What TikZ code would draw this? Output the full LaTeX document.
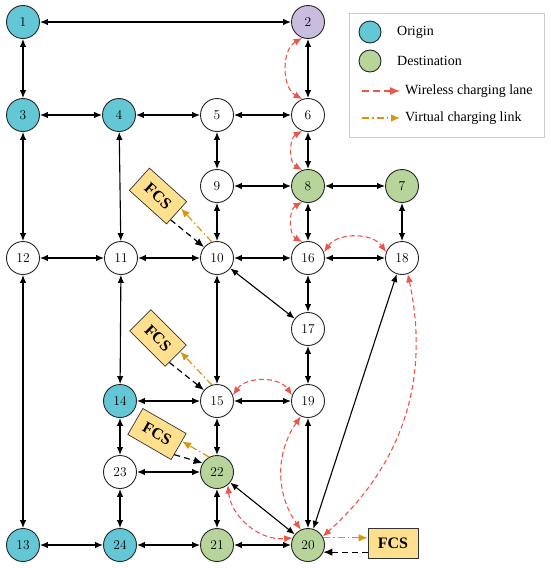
\documentclass[tikz,border=0pt]{standalone}
\usepackage{fontspec}
\newfontfamily\tnr{Liberation Serif}
\usetikzlibrary{arrows.meta,calc}
\definecolor{orgc}{RGB}{99,199,214}
\definecolor{dstc}{RGB}{183,213,154}
\definecolor{purp}{RGB}{202,188,222}
\definecolor{fcsc}{RGB}{255,224,142}
\definecolor{wlc}{RGB}{234,86,74}
\definecolor{vcc}{RGB}{214,150,14}
\begin{document}
\begin{tikzpicture}[x=1pt,y=-1pt,
  nd/.style={circle,draw=black!85,line width=0.9pt,minimum size=33pt,inner sep=0pt,fill=white,font=\fontsize{13.5}{15}\selectfont},
  org/.style={nd,fill=orgc},
  dst/.style={nd,fill=dstc},
  lk/.style={{Latex[length=8pt,width=6.5pt]}-{Latex[length=8pt,width=6.5pt]},line width=1.1pt},
  wl/.style={draw=wlc,dash pattern=on 5pt off 3pt,line width=1.1pt,{Latex[length=8.5pt,width=7pt]}-{Latex[length=8.5pt,width=7pt]}},
  wlone/.style={draw=wlc,dash pattern=on 7pt off 4pt,line width=1.2pt,-{Latex[length=10pt,width=8pt]}},
  vc/.style={draw=vcc,dash pattern=on 7pt off 3pt on 1.5pt off 3pt,line width=1.2pt,-{Latex[length=9pt,width=7.5pt]}},
  bk/.style={draw=black,dash pattern=on 6pt off 4pt,line width=1.2pt,-{Latex[length=9pt,width=7.5pt]}},
  fcs/.style={draw=black!80,line width=0.7pt,fill=fcsc,minimum width=50pt,minimum height=30pt,inner sep=0pt,font=\tnr\bfseries\fontsize{16}{18}\selectfont},
  lgt/.style={anchor=west,inner sep=0pt,font=\tnr\fontsize{14}{16}\selectfont}
]
\useasboundingbox (0,0) rectangle (550,568);

% nodes
\node[org] (n1) at (23,22) {1};
\node[nd,fill=purp] (n2) at (308,22) {2};
\node[org] (n3) at (23,115) {3};
\node[org] (n4) at (119,115) {4};
\node[nd] (n5) at (217,115) {5};
\node[nd] (n6) at (308,115) {6};
\node[nd] (n9) at (217,186) {9};
\node[dst] (n8) at (308,186) {8};
\node[dst] (n7) at (402,186) {7};
\node[nd] (n12) at (23,258) {12};
\node[nd] (n11) at (121,258) {11};
\node[nd] (n10) at (217,258) {10};
\node[nd] (n16) at (308,258) {16};
\node[nd] (n18) at (402,258) {18};
\node[nd] (n17) at (308,329) {17};
\node[org] (n14) at (120,401) {14};
\node[nd] (n15) at (217,401) {15};
\node[nd] (n19) at (308,401) {19};
\node[nd] (n23) at (120,472) {23};
\node[dst] (n22) at (217,472) {22};
\node[org] (n13) at (23,545) {13};
\node[org] (n24) at (120,545) {24};
\node[dst] (n21) at (217,545) {21};
\node[dst] (n20) at (308,545) {20};

% road links
\foreach \a/\b in {n1/n2,n1/n3,n3/n4,n4/n5,n5/n6,n2/n6,n3/n12,n12/n13,n4/n11,n5/n9,n6/n8,n9/n8,n8/n7,n9/n10,n8/n16,n7/n18,n12/n11,n11/n10,n10/n16,n16/n18,n10/n17,n16/n17,n10/n15,n11/n14,n14/n15,n15/n19,n17/n19,n15/n22,n14/n23,n23/n22,n23/n24,n22/n21,n22/n20,n19/n20,n18/n20,n13/n24,n24/n21,n21/n20}
  \draw[lk] (\a) -- (\b);

% wireless charging lanes
\draw[wl] (n2.250) to[bend right=60] (n6.110);
\draw[wl] (n6.250) to[bend right=60] (n8.110);
\draw[wl] (n8.250) to[bend right=60] (n16.110);
\draw[wl] (n16.20) to[bend left=55] (n18.160);
\draw[wl] (n15.20) to[bend left=55] (n19.160);
\draw[wl] (n19.245) to[bend right=35] (n20.115);
\draw[wl] (n22.-50) to[bend right=45] (n20.155);
\draw[wl] (n18.-70) to[bend left=30] (n20.30);

% FCS
\node[fcs,rotate=-42] (f1) at (158,196) {FCS};
\node[fcs,rotate=-45] (f2) at (158,338) {FCS};
\node[fcs,rotate=-30] (f3) at (157,434) {FCS};
\node[fcs] (f4) at (393,543) {FCS};

\draw[bk] ($(f1.east)!0.6!(f1.south east)$) -- (n10.140);
\draw[vc] (n10.108) -- ($(f1.east)!0.4!(f1.north east)$);
\draw[bk] ($(f2.east)!0.6!(f2.south east)$) -- (n15.140);
\draw[vc] (n15.108) -- ($(f2.east)!0.4!(f2.north east)$);
\draw[bk] ($(f3.east)!0.6!(f3.south east)$) -- (n22.148);
\draw[vc] (n22.118) -- ($(f3.east)!0.4!(f3.north east)$);
\draw[vc] (n20.25) -- (n20.25 -| f4.west);
\draw[bk] (f4.west |- n20.-25) -- (n20.-25);

% legend
\draw[draw=black!20,line width=0.7pt] (349,13) rectangle (544,137);
\node[org,minimum size=22pt] (lo) at (370,32) {};
\node[dst,minimum size=22pt] (ld) at (370,61) {};
\node[lgt] (lot) at (397,32) {Origin};
\node[lgt] (ldt) at (397,61) {Destination};
\coordinate (lw1) at (362,91);
\coordinate (lw2) at (400,91);
\draw[wlone] (lw1) -- (lw2);
\node[lgt] (lwt) at (405,91) {Wireless charging lane};
\coordinate (lv1) at (362,118);
\coordinate (lv2) at (400,118);
\draw[vc] (lv1) -- (lv2);
\node[lgt] (lvt) at (405,118) {Virtual charging link};
\end{tikzpicture}
\end{document}
